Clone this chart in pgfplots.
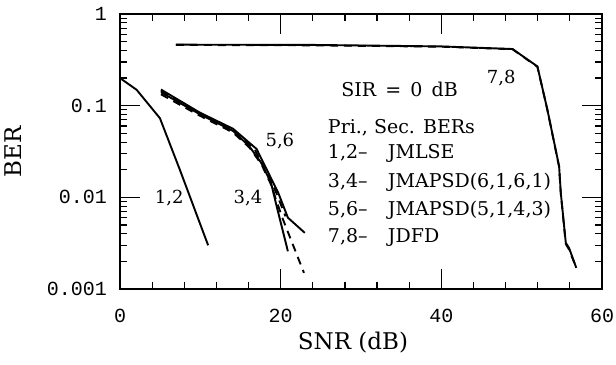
\documentclass[border=0pt]{standalone}
\usepackage{fontspec}
\usepackage{pgfplots}
\pgfplotsset{compat=1.18}
\usetikzlibrary{calc}
\setmainfont{DejaVu Serif}
\newfontfamily\tickfont{Liberation Mono}
\begin{document}
\begin{tikzpicture}
\begin{axis}[name=ax,
  scale only axis, width=241pt, height=137.5pt,
  ymode=log, xmin=0, xmax=60, ymin=0.001, ymax=1,
  xtick={0,20,40,60}, minor x tick num=4,
  ytick={0.001,0.01,0.1,1}, yticklabels={0.001,0.01,0.1,1},
  xticklabels={0,20,40,60},
  major tick length=10pt, minor tick length=3.5pt,
  tick align=inside,
  axis line style={line width=0.7pt},
  every tick/.style={black, line width=0.6pt},
  /pgf/number format/assume math mode=true,
  tick label style={font=\tickfont\fontsize{10}{12}\selectfont},
  xticklabel style={yshift=-6.5pt},
  yticklabel style={xshift=-3pt},
  xlabel={SNR (dB)}, ylabel={BER},
  label style={font=\fontsize{11.5}{14}\selectfont},
  xlabel style={at={(axis description cs:0.5,-0.196)}, anchor=center, xshift=-4pt},
  ylabel style={at={(axis description cs:-0.222,0.5)}, anchor=center},
  every axis plot/.append style={line width=0.95pt, black},
]
% 1,2 JMLSE
\addplot[black, solid] coordinates {(0,0.2) (2.07,0.149) (4.97,0.073) (7.45,0.020) (10.97,0.0030)};
% 3 solid
\addplot[black, solid] coordinates {(5.1,0.140) (9.9,0.081) (14.07,0.053) (16.1,0.036) (17.6,0.0237) (18.8,0.0144) (19.5,0.0080) (20.9,0.00258)};
% 4 dashed
\addplot[black, dash pattern=on 4pt off 3pt] coordinates {(5.1,0.133) (9.9,0.078) (14.07,0.051) (16.1,0.035) (17.6,0.0230) (18.8,0.0138) (19.5,0.0090) (20.3,0.0057) (22.9,0.0015)};
% 5 solid
\addplot[black, solid] coordinates {(5.1,0.150) (9.94,0.084) (14.07,0.056) (17.0,0.0337) (19.7,0.0112) (20.9,0.0060) (23.0,0.0041)};
% 6 dashed
\addplot[black, dash pattern=on 4pt off 3pt] coordinates {(5.1,0.145) (9.94,0.082) (14.07,0.055) (16.8,0.033) (19.4,0.0115) (20.6,0.0062)};
% 7,8 JDFD
\addplot[black, solid] coordinates {(6.96,0.463) (24,0.46) (40,0.443) (48.86,0.415) (51.96,0.268) (53.2,0.0904) (54.66,0.0218) (54.87,0.0112) (55.49,0.0032) (55.9,0.0028) (56.8,0.0017)};
\addplot[black, dash pattern=on 4pt off 3pt] coordinates {(6.96,0.46) (24,0.455) (40,0.44) (48.86,0.413) (51.96,0.265) (53.2,0.09) (54.66,0.0215) (54.87,0.011) (55.49,0.0031) (55.9,0.0027) (56.8,0.0017)};
\begin{scope}[every node/.style={font=\fontsize{9}{11}\selectfont, inner sep=0pt}]
\node at (axis cs:47.45,0.2) {7,8};
\node at (axis cs:19.9,0.0408) {5,6};
\node at (axis cs:15.94,0.00985) {3,4};
\node at (axis cs:6.13,0.00985) {1,2};
\end{scope}
\begin{scope}[every node/.style={font=\fontsize{9.5}{11}\selectfont, inner sep=0pt}]
\node at (axis cs:34.8,0.149) {SIR \,=\, 0 \,dB};
\node[anchor=west] at (axis cs:25.84,0.0575) {Pri., Sec. BERs};
\node[anchor=west] at (axis cs:25.84,0.030) {\makebox[30pt][l]{1,2--}JMLSE};
\node[anchor=west] at (axis cs:25.84,0.0145) {\makebox[30pt][l]{3,4--}JMAPSD(6,1,6,1)};
\node[anchor=west] at (axis cs:25.84,0.00716) {\makebox[30pt][l]{5,6--}JMAPSD(5,1,4,3)};
\node[anchor=west] at (axis cs:25.84,0.00363) {\makebox[30pt][l]{7,8--}JDFD};
\end{scope}
\end{axis}
\pgfresetboundingbox
\path[use as bounding box] ($(ax.south west)+(-60pt,-37.5pt)$) rectangle ($(ax.north east)+(7pt,7pt)$);
\end{tikzpicture}
\end{document}
